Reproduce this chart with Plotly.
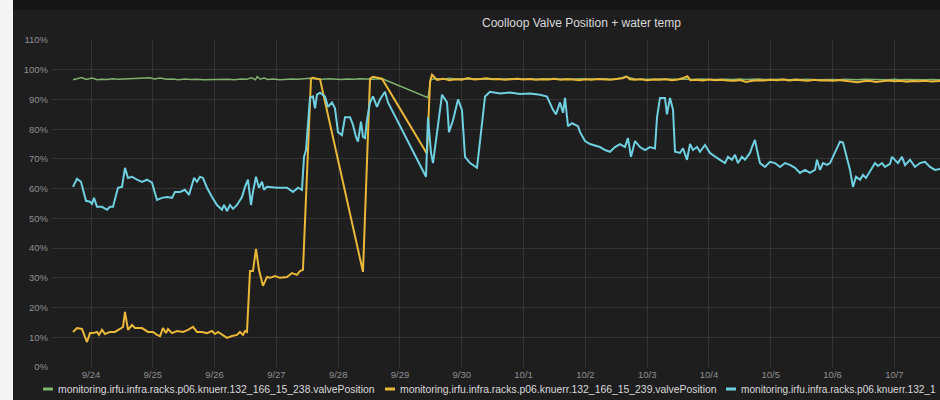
import pandas as pd
import plotly.graph_objects as go

# ---------------- data (days since 9/24 00:00, value in %) ----------------
base_date = "2018-09-24"

green_days = [-0.29, -0.22, -0.15, -0.08, 0.02, 0.10, 0.18, 0.26, 0.35, 0.45, 0.55, 0.65, 0.75, 0.85,
              0.95, 1.03, 1.12, 1.22, 1.32, 1.42, 1.52, 1.62, 1.72, 1.82, 1.92, 2.02, 2.12, 2.22,
              2.32, 2.42, 2.52, 2.60, 2.66, 2.69, 2.74, 2.80, 2.86, 2.95, 3.05, 3.15, 3.25, 3.35,
              3.45, 3.55, 3.65, 3.75, 3.85, 3.95, 4.05, 4.15, 4.25, 4.35, 4.45, 4.55, 4.65, 4.725,
              5.453, 5.50, 5.60, 5.70, 5.80, 5.90, 6.00, 6.10, 6.20, 6.30, 6.40, 6.50, 6.60, 6.70,
              6.80, 6.90, 7.00, 7.10, 7.20, 7.30, 7.40, 7.50, 7.60, 7.70, 7.80, 7.90, 8.00, 8.10,
              8.20, 8.30, 8.40, 8.50, 8.60, 8.65, 8.70, 8.80, 8.90, 9.00, 9.10, 9.20, 9.30, 9.40,
              9.50, 9.60, 9.70, 9.80, 9.90, 10.00, 10.10, 10.20, 10.30, 10.40, 10.50, 10.60, 10.70,
              10.80, 10.90, 11.00, 11.10, 11.20, 11.30, 11.40, 11.50, 11.60, 11.70, 11.80, 11.90,
              12.00, 12.10, 12.20, 12.30, 12.40, 12.50, 12.60, 12.70, 12.80, 12.90, 13.00, 13.10,
              13.20, 13.30, 13.40, 13.50, 13.60, 13.74]
green_vals = [96.6, 96.9, 97.4, 96.7, 97.2, 96.6, 96.8, 96.7, 97.0, 96.8, 96.9, 97.0, 96.9, 97.1,
              97.3, 96.9, 97.2, 96.8, 96.9, 96.6, 96.9, 96.7, 96.8, 96.6, 96.7, 96.6, 96.7, 96.8,
              96.6, 96.9, 96.8, 97.3, 96.6, 97.7, 96.8, 97.2, 96.7, 96.9, 96.6, 96.8, 96.9, 96.8,
              96.9, 97.1, 96.9, 96.8, 97.0, 96.9, 96.7, 96.9, 96.8, 97.0, 96.9, 96.8, 97.0, 96.9,
              90.6, 96.8, 97.0, 96.8, 97.1, 96.9, 97.0, 96.8, 97.0, 96.9, 96.8, 97.0, 96.8, 96.9,
              97.0, 96.8, 96.9, 97.0, 96.8, 96.9, 97.0, 96.8, 96.9, 96.9, 96.8, 97.0, 96.9, 96.8,
              96.9, 97.0, 96.8, 96.9, 97.3, 97.8, 97.4, 96.9, 96.8, 96.9, 96.8, 96.9, 96.8, 96.7,
              96.8, 96.9, 96.7, 96.8, 96.9, 96.7, 96.8, 96.7, 96.8, 96.7, 96.9, 96.7, 96.8,
              96.9, 96.7, 96.8, 96.7, 96.8, 96.6, 96.8, 96.7, 96.8, 96.6, 96.7, 96.8,
              96.7, 96.6, 96.8, 96.7, 96.6, 96.8, 96.7, 96.6, 96.7, 96.6, 96.8, 96.6,
              96.7, 96.6, 96.7, 96.6, 96.7, 96.6]

yellow_days = [-0.291, -0.227, -0.146, -0.065, -0.016, 0.032, 0.097, 0.129, 0.178, 0.227, 0.307,
               0.388, 0.469, 0.518, 0.550, 0.599, 0.663, 0.712, 0.825, 0.922, 1.003, 1.068, 1.117,
               1.165, 1.214, 1.246, 1.311, 1.392, 1.489, 1.570, 1.650, 1.715, 1.796, 1.877, 1.958,
               2.006, 2.055, 2.120, 2.201, 2.282, 2.362, 2.411, 2.460, 2.492, 2.524, 2.573, 2.621,
               2.670, 2.718, 2.783, 2.848, 2.897, 2.977, 3.058, 3.172, 3.252, 3.333, 3.382, 3.430,
               3.560, 3.592, 3.657, 3.706, 4.401, 4.515, 4.563, 4.644, 4.709, 5.437, 5.486, 5.518,
               5.599, 5.70, 5.80, 5.90, 6.00, 6.10, 6.20, 6.30, 6.40, 6.50, 6.60, 6.70, 6.80, 6.90,
               7.00, 7.10, 7.20, 7.30, 7.40, 7.50, 7.60, 7.70, 7.80, 7.90, 8.00, 8.10, 8.20, 8.30,
               8.40, 8.50, 8.60, 8.67, 8.72, 8.80, 8.90, 9.00, 9.10, 9.20, 9.30, 9.40, 9.50, 9.60,
               9.65, 9.70, 9.80, 9.90, 10.00, 10.10, 10.20, 10.30, 10.40, 10.50, 10.60, 10.70,
               10.80, 10.90, 11.00, 11.10, 11.20, 11.30, 11.40, 11.50, 11.60, 11.70, 11.80, 11.90,
               12.00, 12.10, 12.20, 12.30, 12.40, 12.50, 12.60, 12.70, 12.80, 12.90, 13.00, 13.10,
               13.20, 13.30, 13.40, 13.50, 13.60, 13.74]
yellow_vals = [11.8, 13.1, 12.8, 8.4, 11.4, 11.4, 11.8, 10.8, 12.5, 11.1, 11.8,
               11.8, 12.8, 13.5, 18.5, 12.5, 14.1, 13.1, 13.1, 11.8, 11.8, 10.8, 10.4,
               13.1, 11.4, 12.8, 11.4, 12.1, 11.8, 12.5, 13.5, 11.8, 11.8, 11.4, 12.1,
               11.1, 11.8, 10.8, 9.8, 10.4, 10.8, 11.8, 10.8, 12.1, 11.8, 32.3, 32.3,
               39.7, 32.7, 27.3, 30.3, 30.0, 30.6, 30.0, 30.3, 31.6, 31.0, 32.3, 32.7,
               97.0, 97.3, 97.0, 96.8, 32.0, 97.0, 97.6, 97.3, 97.0, 71.7, 96.0, 98.3,
               96.6, 97.0, 96.5, 96.8, 96.6, 97.2, 96.7, 96.9, 97.1, 96.8, 96.9, 96.6, 96.8, 97.0,
               96.7, 96.9, 96.6, 96.8, 96.7, 97.0, 96.6, 96.8, 96.7, 96.5, 96.8, 96.6, 96.9, 96.7,
               96.6, 96.9, 97.1, 97.7, 96.8, 96.6, 96.8, 96.5, 96.7, 96.6, 96.8, 96.5, 96.7, 97.3,
               97.8, 96.5, 96.6, 96.4, 96.7, 96.5, 96.6, 96.4, 96.3, 96.5, 95.9, 96.3,
               96.5, 96.4, 96.6, 96.5, 96.7, 96.4, 96.6, 96.5, 96.3, 96.6, 96.4, 96.5,
               96.3, 96.5, 96.2, 96.0, 95.8, 96.1, 96.3, 95.9, 96.2, 96.4, 96.1, 96.3,
               96.0, 96.2, 96.1, 96.3, 96.0, 96.2]

blue_days = [-0.291, -0.227, -0.162, -0.081, -0.016, 0.016, 0.049, 0.097, 0.178, 0.259, 0.307,
             0.356, 0.437, 0.502, 0.550, 0.599, 0.663, 0.744, 0.825, 0.906, 0.987, 1.068, 1.149,
             1.230, 1.311, 1.359, 1.440, 1.521, 1.586, 1.667, 1.715, 1.764, 1.812, 1.877, 1.958,
             2.039, 2.120, 2.152, 2.201, 2.249, 2.298, 2.362, 2.443, 2.492, 2.540, 2.589, 2.621,
             2.670, 2.718, 2.767, 2.799, 2.848, 3.010, 3.172, 3.269, 3.350, 3.414, 3.447, 3.479,
             3.544, 3.592, 3.625, 3.657, 3.706, 3.786, 3.835, 3.900, 3.948, 3.997, 4.061, 4.110,
             4.191, 4.239, 4.288, 4.320, 4.369, 4.401, 4.434, 4.466, 4.515, 4.563, 4.628, 4.676,
             4.757, 4.806, 5.421, 5.453, 5.502, 5.534, 5.615, 5.680, 5.761, 5.793, 5.858, 5.939,
             6.003, 6.052, 6.133, 6.246, 6.295, 6.376, 6.456, 6.618, 6.780, 6.942, 7.104, 7.265,
             7.379, 7.476, 7.524, 7.589, 7.638, 7.670, 7.718, 7.783, 7.880, 7.913, 7.994, 8.074,
             8.236, 8.317, 8.398, 8.479, 8.560, 8.641, 8.689, 8.738, 8.803, 8.883, 8.964, 9.045,
             9.126, 9.159, 9.207, 9.288, 9.320, 9.369, 9.418, 9.450, 9.531, 9.579, 9.644, 9.693,
             9.741, 9.806, 9.854, 9.935, 10.016, 10.097, 10.178, 10.259, 10.307, 10.372, 10.421,
             10.469, 10.534, 10.583, 10.663, 10.696, 10.744, 10.777, 10.825, 10.906, 10.987,
             11.068, 11.149, 11.230, 11.311, 11.392, 11.472, 11.553, 11.634, 11.715, 11.748,
             11.796, 11.845, 11.909, 11.958, 12.006, 12.071, 12.120, 12.168, 12.233, 12.282,
             12.330, 12.379, 12.443, 12.492, 12.540, 12.605, 12.686, 12.735, 12.799, 12.848,
             12.929, 12.961, 13.010, 13.058, 13.123, 13.172, 13.252, 13.333, 13.414, 13.495,
             13.576, 13.657, 13.738]
blue_vals = [60.6, 63.3, 62.3, 55.9, 55.6, 54.9, 56.9, 53.9, 53.9, 52.9, 53.9,
             53.9, 60.3, 60.6, 67.0, 63.6, 64.0, 63.0, 62.3, 63.0, 62.0, 56.2, 56.9,
             57.2, 56.9, 58.9, 58.9, 59.6, 57.9, 63.6, 62.3, 64.0, 63.6, 60.3, 57.2,
             54.5, 52.9, 54.5, 52.5, 54.5, 53.2, 54.5, 57.2, 60.6, 63.0, 54.5, 58.9,
             64.0, 60.3, 62.3, 59.6, 60.6, 60.3, 60.3, 58.9, 60.3, 59.6, 70.7, 73.0,
             90.6, 91.0, 87.0, 91.6, 92.3, 91.0, 87.5, 89.0, 87.0, 79.0, 78.0, 84.0,
             84.0, 81.5, 77.4, 75.8, 82.5, 77.4, 77.0, 83.0, 89.0, 91.0, 87.5, 90.0,
             92.6, 89.0, 64.0, 84.0, 72.0, 68.6, 81.0, 91.6, 89.0, 79.0, 83.0, 90.0,
             86.5, 70.7, 68.6, 67.0, 76.0, 91.0, 92.6, 92.0, 92.3, 91.8, 92.0, 91.6,
             91.0, 86.5, 85.0, 89.0, 85.5, 90.5, 81.0, 82.0, 81.0, 79.0, 76.0, 75.0,
             74.0, 73.0, 72.4, 74.0, 75.0, 74.0, 77.0, 70.7, 76.0, 74.0, 73.0, 74.0,
             73.5, 84.0, 90.5, 90.5, 85.0, 90.5, 86.5, 72.4, 72.0, 73.6, 69.7, 75.0,
             73.0, 74.0, 72.4, 74.7, 72.0, 70.7, 69.7, 68.6, 70.7, 69.7, 71.4,
             68.6, 70.7, 69.7, 72.0, 74.0, 76.4, 73.0, 68.6, 67.3, 69.0,
             68.6, 67.3, 68.6, 68.0, 67.0, 65.3, 66.3, 65.3, 66.3, 69.7,
             66.3, 68.6, 68.0, 68.6, 70.7, 73.6, 75.8, 75.5, 70.7, 66.3,
             60.6, 64.0, 63.0, 64.6, 63.6, 65.7, 68.6, 67.6, 68.6, 67.3,
             68.3, 70.7, 69.7, 68.6, 70.7, 67.9, 69.7, 67.3, 68.6, 69.0,
             67.3, 66.3, 66.6]

series_names = [
    "monitoring.irfu.infra.racks.p06.knuerr.132_166_15_238.valvePosition",
    "monitoring.irfu.infra.racks.p06.knuerr.132_166_15_239.valvePosition",
    "monitoring.irfu.infra.racks.p06.knuerr.132_1",
]
series_colors = ["#7eb26d", "#eab839", "#6ed0e0"]
title_text = "Coolloop Valve Position + water temp"
x_range_days = [-0.631, 13.738]
y_ticks = list(range(0, 111, 10))
y_tick_labels = [f"{v}%" for v in y_ticks]

# ---------------- figure ----------------
t0 = pd.Timestamp(base_date)


def to_time(days):
    return t0 + pd.to_timedelta(days, unit="D")


W, H = 940, 400
ML, MR, MT, MB = 52, 0, 40, 33
PW, PH = W - ML - MR, H - MT - MB


def px_x(p):
    return (p - ML) / PW


def px_y(p):
    return (H - MB - p) / PH


PANEL = "#1f1e1f"
GRID = "#343335"
TICK = "#8e8e90"
TEXT = "#d8d9da"
FONT = "Liberation Sans, Arial, sans-serif"

fig = go.Figure()
for days, vals, name, color, width in [
    (green_days, green_vals, series_names[0], series_colors[0], 1.5),
    (yellow_days, yellow_vals, series_names[1], series_colors[1], 2),
    (blue_days, blue_vals, series_names[2], series_colors[2], 2),
]:
    fig.add_trace(go.Scatter(
        x=to_time(days), y=vals, mode="lines", name=name,
        line=dict(color=color, width=width), showlegend=False,
    ))

fig.update_layout(
    width=W, height=H,
    margin=dict(l=ML, r=MR, t=MT, b=MB, pad=0),
    paper_bgcolor=PANEL, plot_bgcolor=PANEL,
    font=dict(family=FONT, color=TICK, size=10),
    xaxis=dict(
        type="date", range=[to_time(x_range_days[0]), to_time(x_range_days[1])],
        dtick=86400000, tick0=base_date, tickformat="%-m/%-d",
        showgrid=True, gridcolor=GRID, gridwidth=1, zeroline=False,
        showline=False, ticks="", tickfont=dict(size=9.5, color=TICK),
    ),
    yaxis=dict(
        range=[0, 110], tickmode="array", tickvals=y_ticks, ticktext=y_tick_labels,
        showgrid=True, gridcolor=GRID, gridwidth=1, zeroline=False,
        showline=False, ticks="", ticklabelstandoff=3, tickfont=dict(size=9.5, color=TICK),
    ),
    hovermode=False,
)

shapes = [
    # dark strip above the panel
    dict(type="rect", xref="paper", yref="paper", x0=px_x(0), x1=px_x(W), y0=px_y(10), y1=px_y(0),
         fillcolor="#151515", line=dict(width=0), layer="below"),
    # light page margin on the left
    dict(type="rect", xref="paper", yref="paper", x0=px_x(0), x1=px_x(13), y0=px_y(H), y1=px_y(0),
         fillcolor="#f4f4f4", line=dict(width=0), layer="above"),
]
annotations = [
    dict(text=title_text, xref="paper", yref="paper", x=px_x(581), y=px_y(23),
         xanchor="center", yanchor="middle", showarrow=False,
         font=dict(size=12, color=TEXT, family=FONT)),
]
legend_marker_px = [43, 385, 726]
legend_font_sizes = [10.4, 10.4, 10.1]
for i, (name, color) in enumerate(zip(series_names, series_colors)):
    mx = legend_marker_px[i]
    shapes.append(dict(type="line", xref="paper", yref="paper",
                       x0=px_x(mx), x1=px_x(mx + 10), y0=px_y(389), y1=px_y(389),
                       line=dict(color=color, width=3)))
    annotations.append(dict(text=name, xref="paper", yref="paper", x=px_x(mx + 13), y=px_y(389),
                            xanchor="left", yanchor="middle", showarrow=False,
                            font=dict(size=legend_font_sizes[i], color=TEXT, family=FONT)))

fig.update_layout(shapes=shapes, annotations=annotations)
fig.write_html(
    "out.html",
    config={"displayModeBar": False, "staticPlot": True},
    post_script="document.body.style.margin='0';document.body.style.overflow='hidden';",
)
